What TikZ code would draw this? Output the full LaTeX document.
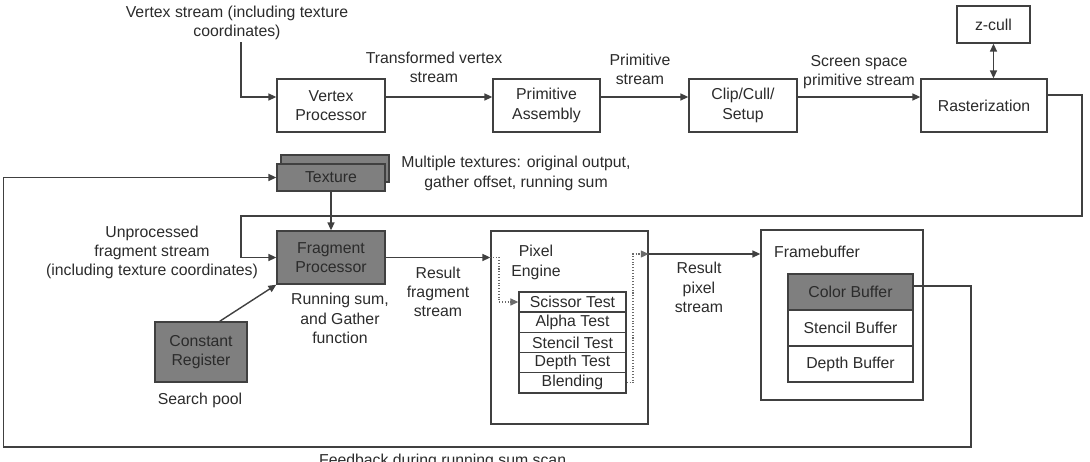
\documentclass[tikz,border=0pt]{standalone}
\usepackage{fontspec}
\setmainfont{Liberation Sans}
\usepackage{xcolor,tikz}
\usetikzlibrary{positioning,calc,arrows.meta}
\definecolor{gpuLine}{HTML}{404040}
\definecolor{gpuDarkFill}{HTML}{7F7F7F}
\definecolor{gpuText}{HTML}{2B2B2B}
\definecolor{gpuDotLine}{HTML}{6A6A6A}
\newcommand\gpufont{\fontsize{9}{11}\selectfont}
\tikzset{
  stage box/.style={
    draw=gpuLine, fill=white, line width=0.8pt,
    inner sep=0pt, align=center,
    font=\gpufont, text=gpuText,
  },
  dark box/.style={stage box, fill=gpuDarkFill},
  note/.style={align=center, inner sep=1pt, font=\gpufont, text=gpuText},
  flow arrow/.style={
    -{Triangle[length=4.5pt, width=4pt]},
    line width=0.8pt, color=gpuLine,
  },
  dotted arrow/.style={
    -{Triangle[length=4.5pt, width=4pt]},
    line width=0.6pt, densely dotted, color=gpuDotLine,
  },
  feedback line/.style={flow arrow, line width=0.7pt},
}

\begin{document}
\begin{tikzpicture}[x=0.02cm, y=-0.02cm]

\useasboundingbox (0,0) rectangle (1090,462);

% --- TOP ROW: GEOMETRY STAGES ---
\node[stage box, minimum width=2.16cm, minimum height=1.06cm]
  (vp) at (331, 105.5) {Vertex\\Processor};
\node[stage box, minimum width=2.14cm, minimum height=1.06cm]
  (pa) at (546.5, 105.5) {Primitive\\Assembly};
\node[stage box, minimum width=2.16cm, minimum height=1.06cm]
  (clip) at (743, 105.5) {Clip/Cull/\\Setup};
\node[stage box, minimum width=2.52cm, minimum height=1.06cm]
  (rast) at (984, 105.5) {Rasterization};
\node[stage box, minimum width=1.46cm, minimum height=0.74cm]
  (zcull) at (993.5, 24.5) {z-cull};

% --- TOP ROW LABELS ---
\node[note] (vslabel) at (237, 23) {Vertex stream (including texture\\coordinates)};
\node[note] (tvlabel) at (434, 67.5) {Transformed vertex\\stream};
\node[note] (pslabel) at (640, 69.5) {Primitive\\stream};
\node[note] (sslabel) at (859, 72) {Screen space\\primitive stream};

% --- TEXTURE STACK + FRAGMENT PROCESSOR ---
\node[dark box, minimum width=2.16cm, minimum height=0.54cm]
  (texback) at (335, 168.5) {};
\node[dark box, minimum width=2.16cm, minimum height=0.54cm]
  (tex) at (331, 177.5) {Texture};
\node[dark box, minimum width=2.16cm, minimum height=1.06cm]
  (fp) at (331, 257.5) {Fragment\\Processor};
\node[dark box, minimum width=1.84cm, minimum height=1.2cm]
  (cr) at (201, 352) {Constant\\Register};

\node[note] (mtlabel) at (516, 173.5) {Multiple textures: original output,\\gather offset, running sum};
\node[note] (uflabel) at (152, 252.5) {Unprocessed\\fragment stream\\(including texture coordinates)};
\node[note] (rslabel) at (340, 318.5) {Running sum,\\and Gather\\function};
\node[note] (rflabel) at (438, 292) {Result\\fragment\\stream};
\node[note] (splabel) at (200, 400) {Search pool};

% --- PIXEL ENGINE ---
\node[stage box, minimum width=3.14cm, minimum height=3.86cm]
  (pe) at (569.5, 327.5) {};
\node[note] (pelabel) at (536, 262.5) {Pixel\\Engine};
\node[stage box, minimum width=2.14cm, minimum height=0.404cm]
  (scissor) at (572.5, 302) {Scissor Test};
\node[stage box, minimum width=2.14cm, minimum height=0.404cm]
  (alpha) at (572.5, 322.2) {Alpha Test};
\node[stage box, minimum width=2.14cm, minimum height=0.404cm]
  (stencil) at (572.5, 342.4) {Stencil Test};
\node[stage box, minimum width=2.14cm, minimum height=0.404cm]
  (depth) at (572.5, 362.6) {Depth Test};
\node[stage box, minimum width=2.14cm, minimum height=0.404cm]
  (blend) at (572.5, 382.8) {Blending};

\node[note] (rplabel) at (699, 287.5) {Result\\pixel\\stream};

% --- FRAMEBUFFER ---
\node[stage box, minimum width=3.24cm, minimum height=3.4cm]
  (fb) at (842, 315) {};
\node[note, anchor=west] (fblabel) at (772, 252) {Framebuffer};
\node[dark box, minimum width=2.5cm, minimum height=0.72cm]
  (color) at (850.5, 292) {Color Buffer};
\node[stage box, minimum width=2.5cm, minimum height=0.72cm]
  (stencilbuf) at (850.5, 328) {Stencil Buffer};
\node[stage box, minimum width=2.5cm, minimum height=0.72cm]
  (depthbuf) at (850.5, 364) {Depth Buffer};

\node[note, anchor=base west] (fbnote) at (317, 466) {Feedback during running sum scan};

% --- RAILS ---
\def\railX{241}            % x of the left input rail
\coordinate (railV) at (\railX, 0);
\coordinate (toprow) at (0, 97);
\coordinate (rastout) at (1082, 95);
\coordinate (railR) at (1082, 216);
\coordinate (railL) at (\railX, 216);
\coordinate (dotin) at (499, 302);
\coordinate (dotout) at (633, 254);
\coordinate (fbout) at (971, 286);
\coordinate (fbR) at (971, 447);
\coordinate (fbL) at (3.5, 447);

% --- GEOMETRY ARROWS ---
\draw[flow arrow] (vslabel.south -| railV) |- (vp.west |- toprow);
\draw[flow arrow] (vp.east |- toprow) -- (pa.west |- toprow);
\draw[flow arrow] (pa.east |- toprow) -- (clip.west |- toprow);
\draw[flow arrow] (clip.east |- toprow) -- (rast.west |- toprow);
\draw[{Triangle[length=4.5pt, width=4pt]}-{Triangle[length=4.5pt, width=4pt]},
      line width=0.8pt, color=gpuLine]
  (zcull.south) -- (zcull.south |- rast.north);

% --- RASTER OUTPUT -> FRAGMENT PROCESSOR ---
\draw[flow arrow] (rast.east |- rastout) -| (railR) -- (railL) |- (fp.west);
\draw[flow arrow] (tex.south) -- (fp.north);
\draw[flow arrow] ($(cr.north)!0.4!(cr.north east)$) -- (fp.south west);

% --- FRAGMENT -> PIXEL ENGINE -> FRAMEBUFFER ---
\draw[flow arrow] (fp.east) -- (pe.west |- fp.east);
\draw[dotted arrow] (pe.west |- fp.east) -| (dotin) -- (scissor.west);
\draw[dotted arrow] (blend.east) -| (dotout) -- (pe.east |- dotout);
\draw[flow arrow] (pe.east |- dotout) -- (fb.west |- dotout);

% --- FEEDBACK LOOP: color buffer -> around -> texture ---
\draw[feedback line] (color.east |- fbout) -- (fbout) -- (fbR) -- (fbL) |- (tex.west);

\end{tikzpicture}
\end{document}
